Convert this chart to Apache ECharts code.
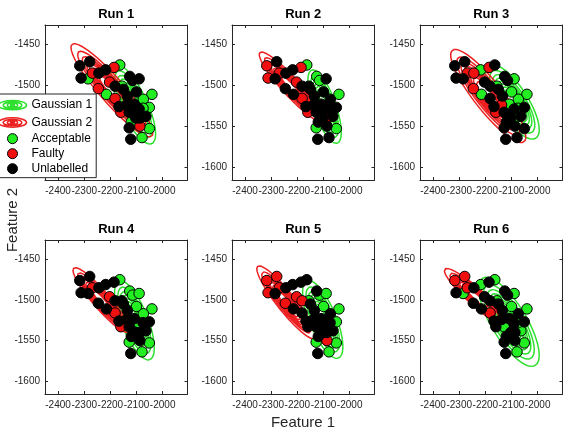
<!DOCTYPE html>
<html>
<head>
<meta charset="utf-8">
<script src="https://cdn.jsdelivr.net/npm/echarts@6/dist/echarts.min.js"></script>
<style>
  html, body { margin: 0; padding: 0; background: #fff; }
  #chart { width: 568px; height: 434px; }
</style>
</head>
<body>
<div id="chart"></div>
<script>
// sample positions (same points in every run)
const pointX = [-2317, -2279, -2312, -2285, -2269, -2244, -2218, -2186, -2164, -2246,
  -2215, -2203, -2182, -2156, -2182, -2167, -2160, -2135, -2126, -2115,
  -2090, -2041, -2074, -2109, -2128, -2090, -2051, -2064, -2103, -2138,
  -2128, -2087, -2079, -2051, -2122, -2087, -2150, -2100, -2120, -2075]
const pointY = [-1476, -1471, -1491, -1492, -1485, -1485, -1481, -1478, -1475, -1504,
  -1511, -1496, -1501, -1501, -1516, -1526, -1533, -1513, -1489, -1494,
  -1492, -1511, -1517, -1523, -1533, -1529, -1527, -1538, -1540, -1524,
  -1552, -1550, -1564, -1553, -1566, -1540, -1505, -1508, -1545, -1528]

// a = acceptable, f = faulty, u = unlabelled
const runLabels = [
  'uuuafuufafafuafufuuuuaauuuauuuufaauuuuaa',
  'fufufuufauufuufufuaauauuuuuuuuauuaufuuuu',
  'uuuuffafufauuauufuuuaaaauuuuufuuuuuauaua',
  'uuuufuuuauufuufufuaaaaauuauuuuauaauuuauu',
  'fffufuuuufuffauuuuuaaauuuuauuuafaauuuauu',
  'ffuafuauauuuuafuuuuuaauuauuauuuuaauuuaua'
]
const runTitles = ['Run 1', 'Run 2', 'Run 3', 'Run 4', 'Run 5', 'Run 6']

// fitted gaussians per run: [meanX, meanY, sdX, sdY, rho]
const gauss1 = [
  [-2112, -1523, 39.6, 22.8, -0.75],
  [-2096, -1526, 29.8, 21.0, -0.70],
  [-2097, -1520, 48.0, 21.4, -0.75],
  [-2108, -1525, 35.4, 22.8, -0.70],
  [-2103, -1524, 35.9, 22.4, -0.70],
  [-2110, -1527, 54.0, 25.6, -0.75]
]
const gauss2 = [
  [-2194, -1506, 73.0, 26.6, -0.92],
  [-2223, -1502, 57.3, 20.0, -0.93],
  [-2189, -1513, 67.0, 26.6, -0.88],
  [-2235, -1500, 50.3, 18.6, -0.92],
  [-2242, -1503, 52.7, 21.0, -0.92],
  [-2230, -1498, 59.2, 17.2, -0.93]
]
// contour heights as a fraction of the peak density
const contourLevels = [0.1, 0.2, 0.3, 0.4, 0.5, 0.6, 0.7, 0.8]

const xTicks = [-2400, -2300, -2200, -2100, -2000]
const yTicks = [-1600, -1550, -1500, -1450]

const font = '"Liberation Sans", Arial, sans-serif'
const axisColor = '#262626'
const green = '#22ee22'
const red = '#f01010'
const greenLine = '#2ee02e'
const redLine = '#ec2020'

const gridLeft = [45, 232, 420]
const gridTop = [25, 240]
const gridW = 142.5
const gridH = [155, 154]

// ellipse outlines of a 2d gaussian, one loop per level, broken by gaps
function contourData (g) {
  const [mx, my, sx, sy, rho] = g
  const out = []
  contourLevels.forEach(lv => {
    const r = Math.sqrt(-2 * Math.log(lv))
    for (let k = 0; k <= 90; k++) {
      const t = k / 90 * 2 * Math.PI
      const u = Math.cos(t)
      const v = Math.sin(t)
      out.push([mx + r * sx * u, my + r * sy * (rho * u + Math.sqrt(1 - rho * rho) * v)])
    }
    out.push(['-', '-'])
  })
  return out
}

function pointsOf (run, code) {
  const res = []
  for (let i = 0; i < pointX.length; i++) {
    if (runLabels[run][i] === code) res.push([pointX[i], pointY[i]])
  }
  return res
}

const grids = []
const xAxes = []
const yAxes = []
const series = []
const graphics = []

for (let i = 0; i < 6; i++) {
  const col = i % 3
  const row = Math.floor(i / 3)
  grids.push({
    left: gridLeft[col], top: gridTop[row], width: gridW, height: gridH[row],
    outerBoundsMode: 'none'
  })
  const line = { show: true, onZero: false, lineStyle: { color: axisColor, width: 1 } }
  const tickX = { show: true, inside: true, length: 3, customValues: xTicks, lineStyle: { color: axisColor } }
  const tickY = { show: true, inside: true, length: 3, customValues: yTicks, lineStyle: { color: axisColor } }
  xAxes.push({
    type: 'value', gridIndex: i, position: 'bottom', min: -2450, max: -1905,
    axisLine: line, axisTick: tickX, splitLine: { show: false },
    axisLabel: { customValues: xTicks, formatter: v => String(v), fontSize: 10, color: axisColor, fontFamily: font, margin: 6 }
  })
  xAxes.push({
    type: 'value', gridIndex: i, position: 'top', min: -2450, max: -1905,
    axisLine: line, axisTick: tickX, splitLine: { show: false }, axisLabel: { show: false }
  })
  yAxes.push({
    type: 'value', gridIndex: i, position: 'left', min: -1616, max: -1426,
    axisLine: line, axisTick: tickY, splitLine: { show: false },
    axisLabel: { customValues: yTicks, formatter: v => String(v), fontSize: 10, color: axisColor, fontFamily: font, margin: 5 }
  })
  yAxes.push({
    type: 'value', gridIndex: i, position: 'right', min: -1616, max: -1426,
    axisLine: line, axisTick: tickY, splitLine: { show: false }, axisLabel: { show: false }
  })

  const ax = { xAxisIndex: 2 * i, yAxisIndex: 2 * i }
  series.push({
    name: 'Gaussian 1', type: 'line', ...ax, data: contourData(gauss1[i]),
    showSymbol: false, connectNulls: false, lineStyle: { color: greenLine, width: 1.5 },
    itemStyle: { color: greenLine }, z: 2
  })
  series.push({
    name: 'Gaussian 2', type: 'line', ...ax, data: contourData(gauss2[i]),
    showSymbol: false, connectNulls: false, lineStyle: { color: redLine, width: 1.5 },
    itemStyle: { color: redLine }, z: 2
  })
  series.push({
    name: 'Acceptable', type: 'scatter', ...ax, data: pointsOf(i, 'a'), symbolSize: 10.5,
    itemStyle: { color: green, borderColor: '#000', borderWidth: 1, opacity: 1 }, z: 3
  })
  series.push({
    name: 'Faulty', type: 'scatter', ...ax, data: pointsOf(i, 'f'), symbolSize: 10.5,
    itemStyle: { color: red, borderColor: '#000', borderWidth: 1, opacity: 1 }, z: 3
  })
  series.push({
    name: 'Unlabelled', type: 'scatter', ...ax, data: pointsOf(i, 'u'), symbolSize: 10.5,
    itemStyle: { color: '#000', borderColor: '#000', borderWidth: 1, opacity: 1 }, z: 3
  })

  graphics.push({
    type: 'text', x: gridLeft[col] + gridW / 2, y: row === 0 ? 14.5 : 229,
    style: { text: runTitles[i], font: 'bold 13px ' + font, fill: '#000', align: 'center', verticalAlign: 'middle' }
  })
}

graphics.push({
  type: 'text', x: 303, y: 423,
  style: { text: 'Feature 1', font: '15px ' + font, fill: axisColor, align: 'center', verticalAlign: 'middle' }
})
graphics.push({
  type: 'text', x: 13, y: 220, rotation: Math.PI / 2,
  style: { text: 'Feature 2', font: '15px ' + font, fill: axisColor, align: 'center', verticalAlign: 'middle' }
})

const ringIcon = 'path://M0.5,5 A13.5,4.5 0 1,1 27.5,5 A13.5,4.5 0 1,1 0.5,5 Z' +
  ' M5,5 A9,3 0 1,1 23,5 A9,3 0 1,1 5,5 Z' +
  ' M9,5 A5,1.8 0 1,1 19,5 A5,1.8 0 1,1 9,5 Z' +
  ' M12,5 A2,0.8 0 1,1 16,5 A2,0.8 0 1,1 12,5 Z'

const option = {
  animation: false,
  backgroundColor: '#fff',
  grid: grids,
  xAxis: xAxes,
  yAxis: yAxes,
  series: series,
  graphic: graphics,
  legend: {
    orient: 'vertical', left: -4, top: 94, z: 20,
    itemWidth: 28, itemHeight: 10, itemGap: 3,
    padding: [4, 4, 3, 0],
    backgroundColor: '#fff', borderColor: axisColor, borderWidth: 1, borderRadius: 0,
    textStyle: { fontSize: 12, color: '#000', fontFamily: font },
    data: [
      { name: 'Gaussian 1', icon: ringIcon, itemStyle: { color: 'none', borderColor: greenLine, borderWidth: 1.5 } },
      { name: 'Gaussian 2', icon: ringIcon, itemStyle: { color: 'none', borderColor: redLine, borderWidth: 1.5 } },
      { name: 'Acceptable', icon: 'circle', itemStyle: { color: green, borderColor: '#000', borderWidth: 1 } },
      { name: 'Faulty', icon: 'circle', itemStyle: { color: red, borderColor: '#000', borderWidth: 1 } },
      { name: 'Unlabelled', icon: 'circle', itemStyle: { color: '#000', borderColor: '#000', borderWidth: 1 } }
    ]
  }
}

const chart = echarts.init(document.getElementById('chart'))
chart.setOption(option)
</script>
</body>
</html>
